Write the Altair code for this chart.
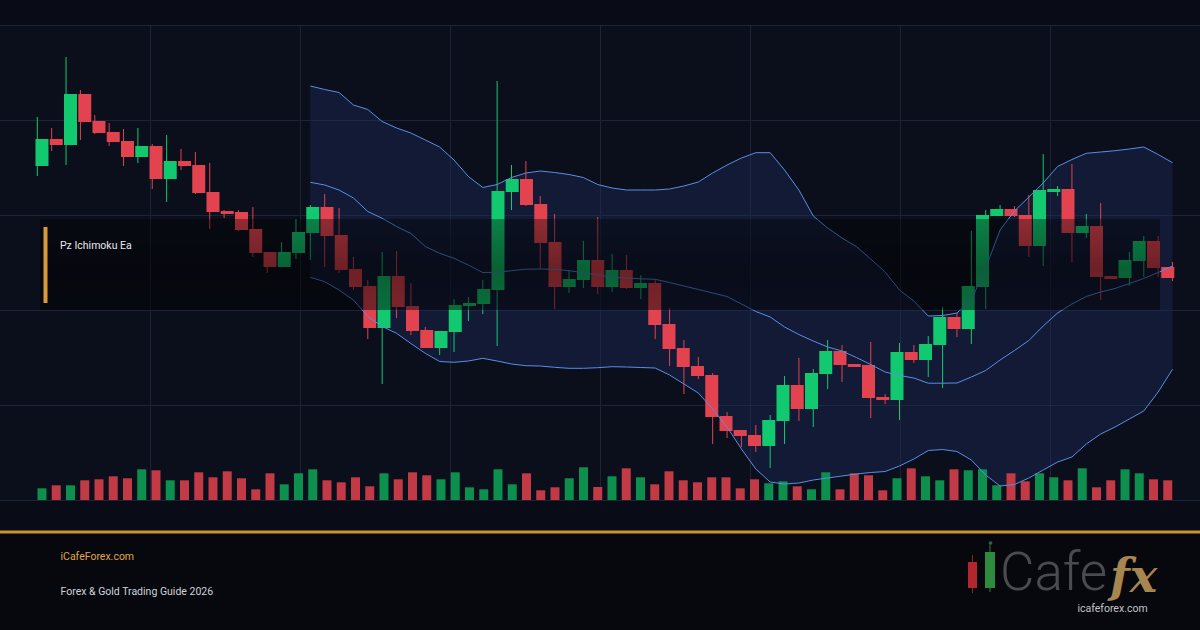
import altair as alt
import pandas as pd

# ---------------- data (prices in arbitrary points) ----------------
open_ = [133.4,136.1,135.5,140.6,137.9,136.8,135.9,134.3,135.4,132.1,
         133.9,133.5,130.8,128.9,128.8,127.1,124.8,123.3,124.7,126.7,
         129.3,126.5,123.1,121.4,117.2,122.4,119.4,117.0,115.2,116.8,
         119.4,119.6,121.0,130.8,132.1,129.6,125.8,121.3,122.0,124.0,
         121.3,123.0,121.2,121.7,117.6,115.2,113.4,112.5,108.4,107.0,
         106.5,105.4,107.9,111.5,109.1,112.6,114.9,113.6,113.5,110.3,
         110.0,114.8,114.0,115.5,118.3,117.1,121.3,128.4,129.1,128.5,
         125.4,130.8,131.1,126.7,127.4,122.4,122.2,123.9,125.9,123.3]
close = [136.1,135.5,140.6,137.8,136.7,135.8,134.3,135.4,132.1,133.9,
         133.4,130.7,128.8,128.6,127.0,124.7,123.3,124.8,126.8,129.3,
         126.4,123.0,121.3,117.2,122.4,119.3,116.9,115.2,116.9,119.5,
         119.7,121.1,130.9,132.1,129.5,125.7,121.3,122.1,124.0,121.3,
         123.0,121.2,121.7,117.5,115.1,113.3,112.4,108.3,106.9,106.4,
         105.4,108.0,111.5,109.1,112.7,114.9,113.5,113.3,110.2,110.0,
         114.8,114.0,115.6,118.3,117.1,121.4,128.5,129.1,128.4,125.4,
         131.0,131.1,126.7,127.4,122.3,122.1,124.0,125.9,123.2,122.2]
high = [138.3,137.2,144.3,141.0,138.5,137.7,137.1,137.2,135.6,136.5,
        135.1,134.8,133.7,129.0,129.0,129.3,124.8,125.8,128.1,129.5,
        130.6,129.2,124.3,122.0,124.8,124.9,121.7,117.3,116.9,120.1,
        120.3,122.0,141.9,133.5,133.9,130.4,128.6,123.0,125.9,128.3,
        124.6,124.5,122.5,122.0,119.2,116.0,114.3,112.7,108.8,107.0,
        107.5,108.5,112.4,114.2,113.1,116.0,115.5,113.6,115.8,110.6,
        115.7,115.5,116.4,119.3,118.7,126.9,129.0,129.5,129.4,130.5,
        134.6,131.4,133.6,128.6,129.7,122.4,124.8,126.4,126.4,123.8]
low = [132.4,134.9,133.5,136.0,136.6,135.4,133.4,133.7,131.1,129.8,
       133.0,130.6,127.1,128.2,126.9,124.3,122.7,123.3,124.1,124.0,
       123.3,122.7,121.0,116.1,111.6,118.2,116.5,115.2,114.5,114.8,
       117.9,118.6,115.4,129.0,129.4,123.1,119.1,120.7,121.2,120.6,
       120.8,121.1,120.1,116.1,113.4,110.6,112.1,105.6,106.2,105.3,
       104.8,103.2,105.6,107.9,107.3,111.1,111.8,113.3,108.2,109.6,
       108.0,113.7,112.3,111.2,116.3,115.6,119.1,128.4,128.3,124.3,
       123.4,130.4,123.8,126.2,120.0,122.1,121.4,122.3,122.3,121.9]
volume = [117,147,147,197,207,237,217,307,297,197,
          197,277,227,287,217,107,267,157,267,307,
          197,177,227,137,267,207,277,247,207,277,
          127,107,307,157,267,97,127,217,327,130,
          237,317,227,157,287,197,177,227,227,117,
          207,167,187,137,107,277,107,267,247,97,
          217,317,237,197,307,297,307,147,267,187,
          267,227,197,317,127,197,307,267,207,197]

# Bollinger bands (20), starting at candle 19
bb_start = 19
bb_upper = [141.4,141.05,140.75,139.5,139.05,137.85,137.2,136.7,136.0,135.3,
            134.0,132.35,131.25,131.55,132.25,132.7,132.9,132.75,132.55,132.25,
            131.55,131.2,131.0,131.0,131.0,131.1,131.4,131.8,132.7,133.5,
            134.2,134.73,134.73,133.0,131.0,128.4,127.2,126.2,125.35,124.1,
            122.8,121.0,119.9,118.4,118.45,118.7,120.0,123.2,127.0,128.9,
            130.3,131.7,133.35,134.05,134.67,134.8,134.93,135.1,135.3,134.55,
            133.73]
bb_mid = [131.77,131.5,131.0,130.2,128.85,128.17,127.35,126.65,125.35,124.67,
          124.17,123.5,122.75,122.77,122.93,123.08,123.1,123.07,122.93,122.73,
          122.5,122.27,122.2,122.12,122.07,121.75,121.4,121.05,120.7,120.35,
          119.6,118.85,118.3,117.3,116.55,115.9,115.3,114.9,114.25,113.55,
          112.8,112.45,112.2,111.68,111.68,111.7,112.3,112.95,114.0,114.95,
          115.95,117.4,118.7,119.6,120.35,120.8,121.15,121.65,122.15,122.75,
          123.4]
bb_lower = [122.27,121.83,121.0,120.0,118.35,117.35,116.67,115.65,114.67,113.85,
            113.77,113.9,114.17,113.9,113.6,113.43,113.4,113.27,113.17,113.17,
            113.23,113.33,113.3,113.25,113.2,112.5,111.6,110.7,109.1,107.3,
            105.1,103.1,101.8,101.6,101.7,102.0,102.2,102.4,102.6,102.75,
            102.85,103.4,104.1,104.95,105.05,104.85,104.0,102.5,101.4,101.55,
            102.2,103.0,103.8,104.3,105.6,106.6,107.3,108.1,108.9,110.8,
            113.07]

# ---------------- layout / styles ----------------
W, H = 1200, 630
X_DOM = [-2.5957, 80.912]
P_DOM = [87, 150]
V_DOM = [-1300, 5000]
GREEN, RED = "#12c96f", "#e2434f"
VGREEN, VRED = "#0d8f4d", "#c13a45"
BAND = "#5a8ee6"

n = len(open_)
df = pd.DataFrame({"t": list(range(n)), "open": open_, "close": close,
                   "high": high, "low": low, "vol": volume})
bb = pd.DataFrame({"t": list(range(bb_start, bb_start + len(bb_upper))),
                   "upper": bb_upper, "mid": bb_mid, "lower": bb_lower})

xs = alt.Scale(domain=X_DOM, nice=False, zero=False)
ps = alt.Scale(domain=P_DOM, nice=False, zero=False)
vs = alt.Scale(domain=V_DOM, nice=False, zero=False)
X = alt.X("t:Q", scale=xs, axis=None)
updown = alt.condition("datum.close >= datum.open", alt.value(GREEN), alt.value(RED))
vupdown = alt.condition("datum.close >= datum.open", alt.value(VGREEN), alt.value(VRED))

# background panels (pixel coordinates)
bg = pd.DataFrame({
    "x": [0, 0, 0], "x2": [W, W, W],
    "y": [0, 25, 500], "y2": [25, 500, 530],
    "fill": ["#090c16", "#0b0f1c", "#090c16"]})
bg_layer = alt.Chart(bg).mark_rect().encode(
    x=alt.X("x:Q", scale=None, axis=None), x2="x2:Q",
    y=alt.Y("y:Q", scale=None, axis=None), y2="y2:Q",
    fill=alt.Fill("fill:N", scale=None, legend=None))

# grid
gx = [150.5, 300.5, 450.5, 600.5, 750.5, 900.5, 1050.5]
gy = [25.5, 120.5, 215.5, 310.5, 405.5, 500.5]
grid = pd.DataFrame({
    "x": gx + [0] * len(gy), "x2": gx + [W] * len(gy),
    "y": [25] * len(gx) + gy, "y2": [500] * len(gx) + gy})
grid_layer = alt.Chart(grid).mark_rule(color="#1e2436", strokeWidth=1).encode(
    x=alt.X("x:Q", scale=None, axis=None), x2="x2:Q",
    y=alt.Y("y:Q", scale=None, axis=None), y2="y2:Q")

band_fill = alt.Chart(bb).mark_area(color="#1c2b57", opacity=0.42).encode(
    x=X, y=alt.Y("upper:Q", scale=ps, axis=None), y2="lower:Q")

vol_layer = alt.Chart(df).mark_bar(size=9).encode(
    x=X, y=alt.Y("vol:Q", scale=vs, axis=None), y2=alt.datum(0), color=vupdown)

wicks = alt.Chart(df).mark_rule(strokeWidth=1).encode(
    x=X, y=alt.Y("low:Q", scale=ps, axis=None), y2="high:Q", color=updown)
bodies = alt.Chart(df).mark_bar(size=13).encode(
    x=X, y=alt.Y("open:Q", scale=ps, axis=None), y2="close:Q", color=updown)

bb_long = bb.melt(id_vars="t", value_vars=["upper", "mid", "lower"],
                  var_name="band", value_name="p")
band_lines = alt.Chart(bb_long).mark_line(color=BAND, strokeWidth=1).encode(
    x=X, y=alt.Y("p:Q", scale=ps, axis=None), detail="band:N")

# label panel with gold accent
overlay = pd.DataFrame({"x": [40], "x2": [1160], "y": [219], "y2": [310]})
overlay_fill = {"gradient": "linear", "x1": 0, "y1": 0, "x2": 0, "y2": 1,
                "stops": [{"offset": 0, "color": "rgba(0,0,0,0.36)"},
                          {"offset": 0.55, "color": "rgba(0,0,0,0.52)"},
                          {"offset": 1, "color": "rgba(0,0,0,0.46)"}]}
overlay_layer = alt.Chart(overlay).mark_rect(fill=overlay_fill).encode(
    x=alt.X("x:Q", scale=None, axis=None), x2="x2:Q",
    y=alt.Y("y:Q", scale=None, axis=None), y2="y2:Q")

accents = pd.DataFrame({
    "x": [43.5, 0], "x2": [47.5, W], "y": [227, 530.5], "y2": [303, 533.5],
    "fill": ["#d69a3c", "#c8923b"]})
accent_layer = alt.Chart(accents).mark_rect().encode(
    x=alt.X("x:Q", scale=None, axis=None), x2="x2:Q",
    y=alt.Y("y:Q", scale=None, axis=None), y2="y2:Q",
    fill=alt.Fill("fill:N", scale=None, legend=None))

def text_layer(txt, x, y, color, size, font="Roboto", weight="normal",
               style="normal", align="left"):
    d = pd.DataFrame({"label": [txt], "x": [x], "y": [y]})
    return alt.Chart(d).mark_text(
        align=align, baseline="alphabetic", color=color, fontSize=size,
        font=font, fontWeight=weight, fontStyle=style).encode(
        x=alt.X("x:Q", scale=None, axis=None),
        y=alt.Y("y:Q", scale=None, axis=None), text="label:N")

label = text_layer("Pz Ichimoku Ea", 60, 249, "#e6e8ee", 10.5)
foot1 = text_layer("iCafeForex.com", 60.5, 560, "#e0a54a", 10.5)
foot2 = text_layer("Forex & Gold Trading Guide 2026", 60.5, 595, "#cfd2d8", 10.5)

# logo
logo_rects = pd.DataFrame({
    "x": [972, 989.5, 968, 985], "x2": [973, 990.5, 977, 995],
    "y": [555, 545, 562, 552], "y2": [593, 592, 588, 588],
    "fill": ["#8a2326", "#2a7a38", "#b3262b", "#2e8b3e"]})
logo_layer = alt.Chart(logo_rects).mark_rect().encode(
    x=alt.X("x:Q", scale=None, axis=None), x2="x2:Q",
    y=alt.Y("y:Q", scale=None, axis=None), y2="y2:Q",
    fill=alt.Fill("fill:N", scale=None, legend=None))
logo_dot = alt.Chart(pd.DataFrame({"x": [990.5], "y": [543]})).mark_circle(
    size=14, color="#3d5a48", opacity=1).encode(
    x=alt.X("x:Q", scale=None, axis=None), y=alt.Y("y:Q", scale=None, axis=None))
cafe = text_layer("Cafe", 1000, 590, "#4a4b50", 53, weight=300)
fx = text_layer("fx", 1110, 592, "#a8864f", 46, font="DejaVu Serif",
                weight="bold", style="italic")
site = text_layer("icafeforex.com", 1112.5, 612, "#c4c4c8", 10.5, align="center")

chart = alt.layer(
    bg_layer, grid_layer, band_fill, vol_layer, wicks, bodies, band_lines,
    overlay_layer, accent_layer, label, foot1, foot2,
    logo_layer, logo_dot, cafe, fx, site
).resolve_scale(
    x="independent", y="independent", color="independent", fill="independent"
).properties(
    width=W, height=H, padding=0, autosize="none", background="#06080e"
).configure_view(stroke=None)

chart.save("out.html", embed_options={"renderer": "svg", "actions": False})
